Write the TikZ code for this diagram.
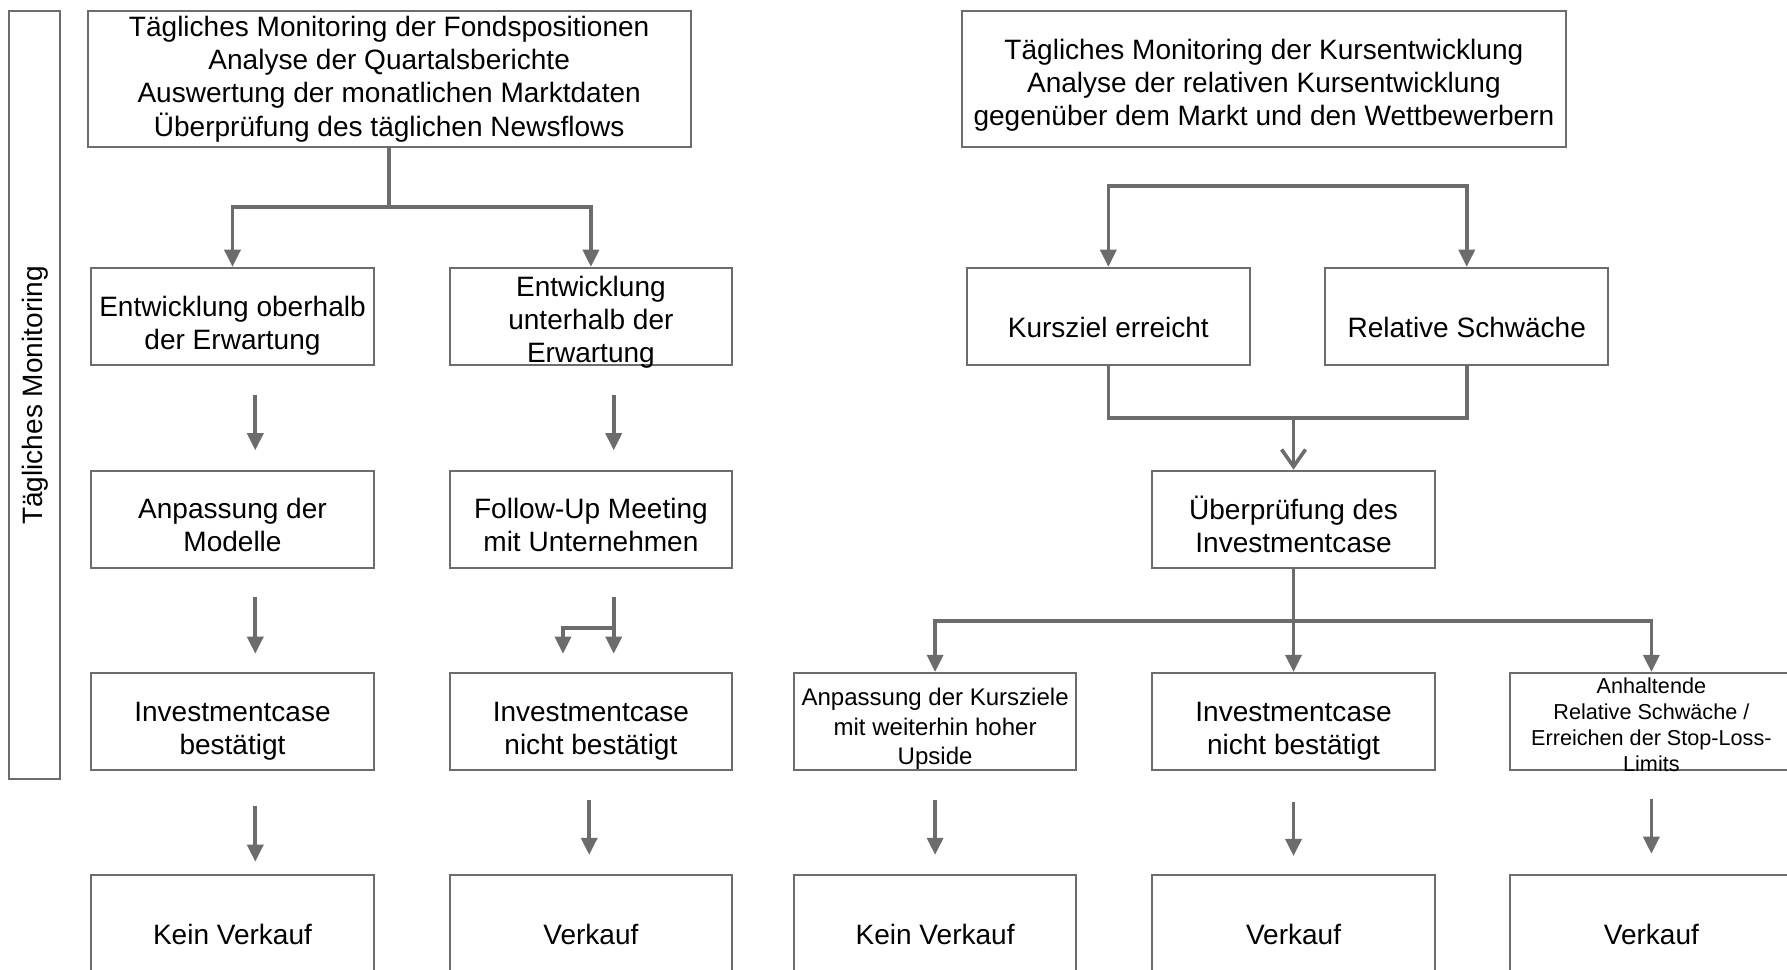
\documentclass[tikz,border=0pt]{standalone}
\usepackage{fontspec}
\setmainfont{Liberation Sans}
\usetikzlibrary{arrows.meta,positioning,calc}

\definecolor{linegray}{RGB}{108,108,108}

\begin{document}
\begin{tikzpicture}[x=0.02cm,y=-0.02cm,
  box/.style={draw=linegray,line width=1pt,minimum width=4.96cm,minimum height=1.7cm},
  txt/.style={align=center,inner sep=0pt,font=\fontsize{14}{16.5}\selectfont},
  small/.style={txt,font=\fontsize{12}{14.6}\selectfont},
  tiny/.style={txt,font=\fontsize{10.8}{12.9}\selectfont},
  conn/.style={draw=linegray,line width=1.8pt},
  arr/.style={conn,-{Triangle[length=0.3cm,width=0.28cm]}},
  openarr/.style={conn,-{Straight Barb[length=0.3cm,width=0.42cm]}}]
\useasboundingbox (0,0) rectangle (1568,851);

% Side label
\node[box,rotate=90,minimum width=13.48cm,minimum height=0.9cm,txt] (side) at (30.5,347) {Tägliches Monitoring};

% Fund positions (left)
\node[box,minimum width=10.58cm,minimum height=2.38cm,
  label={[txt]center:{Tägliches Monitoring der Fondspositionen\\Analyse der Quartalsberichte\\Auswertung der monatlichen Marktdaten\\Überprüfung des täglichen Newsflows}}] (topL) at (341.5,69.5) {};
\node[box,label={[txt,yshift=-0.16cm]center:{Entwicklung oberhalb\\der Erwartung}}] (a2) at (204,277.5) {};
\node[box,label={[txt,yshift=-0.1cm]center:{Entwicklung\\unterhalb der\\Erwartung}}] (b2) at (518.5,277.5) {};
\node[box,label={[txt,yshift=-0.1cm]center:{Anpassung der\\Modelle}}] (a3) at (204,455.5) {};
\node[box,label={[txt,yshift=-0.1cm]center:{Follow-Up Meeting\\mit Unternehmen}}] (b3) at (518.5,455.5) {};
\node[box,label={[txt,yshift=-0.18cm]center:{Investmentcase\\bestätigt}}] (a4) at (204,633) {};
\node[box,label={[txt,yshift=-0.18cm]center:{Investmentcase\\nicht bestätigt}}] (b4) at (518.5,633) {};
\node[box,minimum height=2.08cm,label={[txt]center:Kein Verkauf}] (a5) at (204,820) {};
\node[box,minimum height=2.08cm,label={[txt]center:Verkauf}] (b5) at (518.5,820) {};

% Share price (right)
\node[box,minimum width=10.6cm,minimum height=2.38cm,
  label={[txt,yshift=-0.1cm]center:{Tägliches Monitoring der Kursentwicklung\\Analyse der relativen Kursentwicklung\\gegenüber dem Markt und den Wettbewerbern}}] (topR) at (1109,69.5) {};
\node[box,label={[txt,yshift=-0.2cm]center:Kursziel erreicht}] (c2) at (972.5,277.5) {};
\node[box,label={[txt,yshift=-0.2cm]center:Relative Schwäche}] (d2) at (1287,277.5) {};
\node[box,label={[txt,yshift=-0.09cm]center:{Überprüfung des\\Investmentcase}}] (d3) at (1135,455.5) {};
\node[box,label={[small,yshift=-0.13cm]center:{Anpassung der Kursziele\\mit weiterhin hoher\\Upside}}] (c4) at (820.5,633) {};
\node[box,label={[txt,yshift=-0.18cm]center:{Investmentcase\\nicht bestätigt}}] (d4) at (1135,633) {};
\node[box,label={[tiny,yshift=-0.06cm]center:{Anhaltende\\Relative Schwäche /\\Erreichen der Stop-Loss-\\Limits}}] (e4) at (1449,633) {};
\node[box,minimum height=2.08cm,label={[txt]center:Kein Verkauf}] (c5) at (820.5,820) {};
\node[box,minimum height=2.08cm,label={[txt]center:Verkauf}] (d5) at (1135,820) {};
\node[box,minimum height=2.08cm,label={[txt]center:Verkauf}] (e5) at (1449,820) {};

% Connectors left
\coordinate (splitL) at ($(topL.south)+(0,52)$);
\draw[conn] (topL.south) -- (splitL);
\draw[arr] (splitL) -| (a2.north);
\draw[arr] (splitL) -| (b2.north);
\draw[arr] ($(a2.south)+(20,26)$) -- ($(a3.north)+(20,-17)$);
\draw[arr] ($(b2.south)+(20,26)$) -- ($(b3.north)+(20,-17)$);
\draw[arr] ($(a3.south)+(20,25)$) -- ($(a4.north)+(20,-16)$);
\draw[arr] ($(b3.south)+(20,25)$) -- ($(b4.north)+(20,-16)$);
\coordinate (fork) at ($(b3.south)+(20,52)$);
\draw[arr] (fork) -| ($(b4.north)+(-24.5,-16)$);
\draw[arr] ($(a4.south)+(20,30.5)$) -- ($(a5.north)+(20,-11)$);
\draw[arr] ($(b4.south)+(-1.5,25.5)$) -- ($(b5.north)+(-1.5,-17)$);

% Connectors right
\coordinate (splitR) at (1135,163);
\draw[arr] (splitR) -| (c2.north);
\draw[arr] (splitR) -| (d2.north);
\coordinate (mergeR) at (1135,367);
\draw[conn] (c2.south) |- (mergeR) -| (d2.south);
\draw[openarr] (mergeR) -- (d3.north);
\draw[arr] (d3.south) -- (d4.north);
\coordinate (splitD) at ($(d3.south)+(0,46)$);
\draw[arr] (splitD) -| (c4.north);
\draw[arr] (splitD) -| (e4.north);
\draw[arr] ($(c4.south)+(0,25.5)$) -- ($(c5.north)+(0,-17)$);
\draw[arr] ($(d4.south)+(0,27.5)$) -- ($(d5.north)+(0,-16)$);
\draw[arr] ($(e4.south)+(0,24.5)$) -- ($(e5.north)+(0,-18)$);
\end{tikzpicture}
\end{document}
